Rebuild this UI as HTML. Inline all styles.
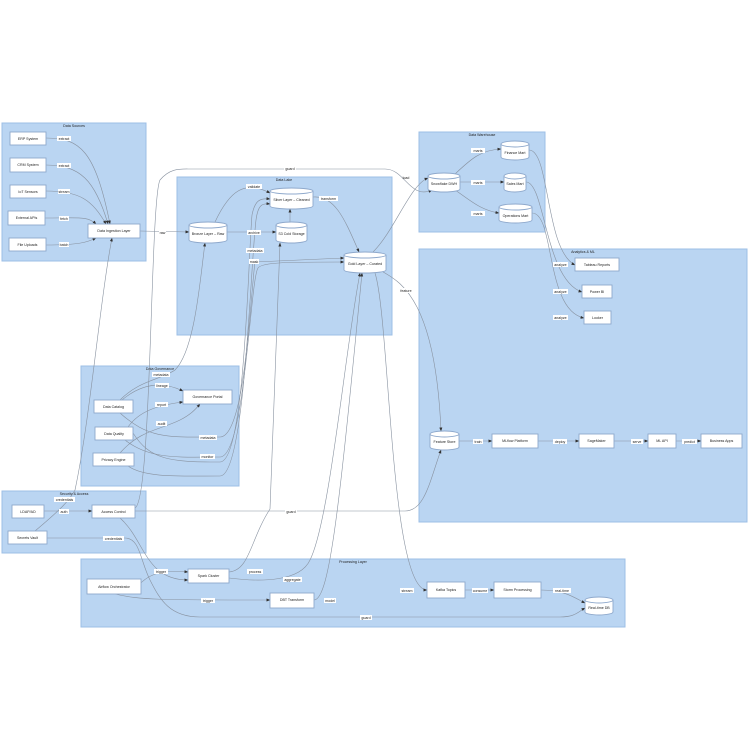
<!DOCTYPE html>
<html><head><meta charset="utf-8"><style>
html,body{margin:0;padding:0;background:#fff;}
svg{display:block;}
text{font-family:"Liberation Sans",sans-serif;font-size:3.6px;fill:#222;}
.c{fill:#bad5f2;stroke:#9cbfe6;stroke-width:1;}
.n{fill:#fff;stroke:#8fa9cc;stroke-width:0.9;}
.e{fill:none;stroke:#8892a0;stroke-width:0.6;}
.lb{fill:#fff;}
</style></head><body>
<svg width="750" height="750" viewBox="0 0 750 750" xmlns="http://www.w3.org/2000/svg">
<defs><marker id="a" markerWidth="4" markerHeight="4" refX="3.5" refY="2" orient="auto" markerUnits="userSpaceOnUse"><path d="M0,0.5 L4,2 L0,3.5 z" fill="#333"/></marker></defs>
<rect class="c" x="2" y="123" width="144" height="138"/><text x="74" y="127" text-anchor="middle">Data Sources</text>
<rect class="c" x="177" y="177" width="215" height="158"/><text x="284" y="181" text-anchor="middle">Data Lake</text>
<rect class="c" x="419" y="132" width="126" height="100"/><text x="482" y="136" text-anchor="middle">Data Warehouse</text>
<rect class="c" x="419" y="249" width="328" height="273"/><text x="583" y="253" text-anchor="middle">Analytics &amp; ML</text>
<rect class="c" x="81" y="366" width="158" height="120"/><text x="160" y="370" text-anchor="middle">Data Governance</text>
<rect class="c" x="2" y="491" width="144" height="62"/><text x="74" y="495" text-anchor="middle">Security &amp; Access</text>
<rect class="c" x="81" y="559" width="544" height="68"/><text x="353" y="563" text-anchor="middle">Processing Layer</text>

<g class="e" marker-end="url(#a)">
<path d="M46,138 C80,138 95,150 110,224"/>
<path d="M46,165 C80,165 95,180 108,224"/>
<path d="M46,191 C80,191 92,200 106,224"/>
<path d="M45,218 C80,218 88,216 96,224"/>
<path d="M46,245 C80,245 88,242 96,238"/>
<path d="M140,231 L189,232"/>
<path d="M215,222 C230,190 245,180 270,193"/>
<path d="M227,232 L276,232"/>
<path d="M290,222 L290,209"/>
<path d="M313,197 C335,195 345,220 359,252"/>
<path d="M373,252 C395,230 410,185 428,178"/>
<path d="M135,508 C152,500 150,200 160,180 C170,168 180,169 190,169 L385,169 C405,169 410,200 432,190"/>
<path d="M455,174 C470,160 480,150 501,149"/>
<path d="M460,182 L504,182"/>
<path d="M455,190 C470,200 480,210 499,213"/>
<path d="M529,150 C550,150 545,250 575,265"/>
<path d="M526,182 C545,182 545,280 582,292"/>
<path d="M532,213 C555,213 545,310 584,318"/>
<path d="M380,270 C395,280 435,290 441,431"/>
<path d="M375,273 C390,320 390,590 427,590"/>
<path d="M459,441 L492,441"/>
<path d="M538,441 L579,441"/>
<path d="M614,441 L648,441"/>
<path d="M676,441 L701,441"/>
<path d="M135,511 L405,511 C425,511 430,480 441,450"/>
<path d="M44,511 L92,511"/>
<path d="M35,531 C60,510 70,500 75,490 C90,420 100,300 112,238"/>
<path d="M47,538 L125,538 C140,538 140,560 150,580 C160,600 170,617 200,617 L560,617 C575,617 578,612 585,608"/>
<path d="M120,518 C145,540 145,580 188,580"/>
<path d="M138,586 C150,572 165,570 188,572"/>
<path d="M115,594 C140,600 160,600 270,600"/>
<path d="M229,572 C250,570 250,540 270,509 L280,243"/>
<path d="M229,578 C260,582 300,582 310,560 C330,520 345,350 360,273"/>
<path d="M314,600 C330,600 340,500 362,273"/>
<path d="M465,590 L494,590"/>
<path d="M541,590 C565,590 575,598 585,603"/>
<path d="M120,400 C140,380 160,380 175,370 C195,350 200,280 205,243"/>
<path d="M122,400 C140,385 160,380 183,391"/>
<path d="M128,427 C140,410 160,405 183,402"/>
<path d="M120,453 C140,430 160,430 180,420 C190,415 195,410 200,404"/>
<path d="M120,413 C150,440 170,437 220,437 C245,437 250,300 255,262 L344,258"/>
<path d="M125,440 C150,460 180,457 220,457 C245,457 250,280 258,268 C262,262 290,262 344,262"/>
<path d="M133,433 C150,460 170,462 220,462 C245,462 248,260 252,215 C255,200 260,198 270,199"/>
<path d="M128,466 C145,478 180,476 220,476 C245,476 250,270 256,220 C258,205 262,203 270,204"/>
</g>

<g>
<rect class="n" x="10" y="132" width="36" height="13"/><text x="28" y="140" text-anchor="middle">ERP System</text>
<rect class="n" x="10" y="158" width="36" height="14"/><text x="28" y="166" text-anchor="middle">CRM System</text>
<rect class="n" x="10" y="185" width="36" height="13"/><text x="28" y="193" text-anchor="middle">IoT Sensors</text>
<rect class="n" x="8" y="211" width="37" height="14"/><text x="26.5" y="219" text-anchor="middle">External APIs</text>
<rect class="n" x="9" y="238" width="37" height="13"/><text x="27.5" y="246" text-anchor="middle">File Uploads</text>
<rect class="n" x="88" y="224" width="52" height="14"/><text x="114" y="232" text-anchor="middle">Data Ingestion Layer</text>
<rect class="n" x="575" y="258" width="44" height="13"/><text x="597" y="266" text-anchor="middle">Tableau Reports</text>
<rect class="n" x="582" y="285" width="30" height="13"/><text x="597" y="293" text-anchor="middle">Power BI</text>
<rect class="n" x="584" y="311" width="27" height="13"/><text x="597.5" y="319" text-anchor="middle">Looker</text>
<rect class="n" x="492" y="434" width="46" height="14"/><text x="515" y="442" text-anchor="middle">MLflow Platform</text>
<rect class="n" x="579" y="434" width="35" height="14"/><text x="596.5" y="442" text-anchor="middle">SageMaker</text>
<rect class="n" x="648" y="434" width="28" height="14"/><text x="662" y="442" text-anchor="middle">ML API</text>
<rect class="n" x="701" y="434" width="41" height="14"/><text x="721.5" y="442" text-anchor="middle">Business Apps</text>
<rect class="n" x="94" y="400" width="39" height="13"/><text x="113.5" y="408" text-anchor="middle">Data Catalog</text>
<rect class="n" x="95" y="427" width="38" height="13"/><text x="114" y="435" text-anchor="middle">Data Quality</text>
<rect class="n" x="93" y="453" width="41" height="13"/><text x="113.5" y="461" text-anchor="middle">Privacy Engine</text>
<rect class="n" x="183" y="390" width="49" height="14"/><text x="207.5" y="398" text-anchor="middle">Governance Portal</text>
<rect class="n" x="12" y="505" width="32" height="13"/><text x="28" y="513" text-anchor="middle">LDAP/AD</text>
<rect class="n" x="92" y="505" width="43" height="13"/><text x="113.5" y="513" text-anchor="middle">Access Control</text>
<rect class="n" x="8" y="531" width="39" height="13"/><text x="27.5" y="539" text-anchor="middle">Secrets Vault</text>
<rect class="n" x="87" y="579" width="54" height="15"/><text x="114" y="588" text-anchor="middle">Airflow Orchestrator</text>
<rect class="n" x="188" y="569" width="41" height="14"/><text x="208.5" y="577" text-anchor="middle">Spark Cluster</text>
<rect class="n" x="270" y="593" width="44" height="15"/><text x="292" y="601" text-anchor="middle">DBT Transform</text>
<rect class="n" x="427" y="582" width="38" height="16"/><text x="446" y="591" text-anchor="middle">Kafka Topics</text>
<rect class="n" x="494" y="582" width="47" height="16"/><text x="517.5" y="591" text-anchor="middle">Storm Processing</text>
</g>

<g>
<path class="n" d="M189,225 L189,240 A19,3 0 0 0 227,240 L227,225"/><ellipse class="n" cx="208" cy="225" rx="19" ry="3"/><text x="208" y="235" text-anchor="middle">Bronze Layer – Raw</text>
<path class="n" d="M270,191 L270,206 A21.5,3 0 0 0 313,206 L313,191"/><ellipse class="n" cx="291.5" cy="191" rx="21.5" ry="3"/><text x="291.5" y="201" text-anchor="middle">Silver Layer – Cleaned</text>
<path class="n" d="M276,225 L276,240 A15.5,3 0 0 0 307,240 L307,225"/><ellipse class="n" cx="291.5" cy="225" rx="15.5" ry="3"/><text x="291.5" y="235" text-anchor="middle">S3 Cold Storage</text>
<path class="n" d="M344,255 L344,270 A21,3 0 0 0 386,270 L386,255"/><ellipse class="n" cx="365" cy="255" rx="21" ry="3"/><text x="365" y="265" text-anchor="middle">Gold Layer – Curated</text>
<path class="n" d="M428,176 L428,189 A16,3 0 0 0 460,189 L460,176"/><ellipse class="n" cx="444" cy="176" rx="16" ry="3"/><text x="444" y="185" text-anchor="middle">Snowflake DWH</text>
<path class="n" d="M501,144 L501,157 A14,3 0 0 0 529,157 L529,144"/><ellipse class="n" cx="515" cy="144" rx="14" ry="3"/><text x="515" y="154" text-anchor="middle">Finance Mart</text>
<path class="n" d="M504,176 L504,189 A11,3 0 0 0 526,189 L526,176"/><ellipse class="n" cx="515" cy="176" rx="11" ry="3"/><text x="515" y="185" text-anchor="middle">Sales Mart</text>
<path class="n" d="M499,207 L499,220 A16.5,3 0 0 0 532,220 L532,207"/><ellipse class="n" cx="515.5" cy="207" rx="16.5" ry="3"/><text x="515.5" y="217" text-anchor="middle">Operations Mart</text>
<path class="n" d="M430,434 L430,447 A14.5,3 0 0 0 459,447 L459,434"/><ellipse class="n" cx="444.5" cy="434" rx="14.5" ry="3"/><text x="444.5" y="443" text-anchor="middle">Feature Store</text>
<path class="n" d="M585,600 L585,612 A14,3 0 0 0 613,612 L613,600"/><ellipse class="n" cx="599" cy="600" rx="14" ry="3"/><text x="599" y="609" text-anchor="middle">Real-time DB</text>
</g>

<g>
<rect class="lb" x="57" y="136" width="14" height="5"/><text x="64" y="140" text-anchor="middle">extract</text>
<rect class="lb" x="57" y="163" width="14" height="5"/><text x="64" y="167" text-anchor="middle">extract</text>
<rect class="lb" x="58" y="189" width="12" height="5"/><text x="64" y="193" text-anchor="middle">stream</text>
<rect class="lb" x="59" y="216" width="10" height="5"/><text x="64" y="220" text-anchor="middle">fetch</text>
<rect class="lb" x="59" y="242" width="10" height="5"/><text x="64" y="246" text-anchor="middle">batch</text>
<rect class="lb" x="159" y="230" width="7" height="5"/><text x="162.5" y="234" text-anchor="middle">raw</text>
<rect class="lb" x="246" y="184" width="16" height="5"/><text x="254" y="188" text-anchor="middle">validate</text>
<rect class="lb" x="247" y="230" width="14" height="5"/><text x="254" y="234" text-anchor="middle">archive</text>
<rect class="lb" x="319" y="196" width="19" height="5"/><text x="328.5" y="200" text-anchor="middle">transform</text>
<rect class="lb" x="246" y="248" width="18" height="5"/><text x="255" y="252" text-anchor="middle">metadata</text>
<rect class="lb" x="249" y="259" width="10" height="5"/><text x="254" y="263" text-anchor="middle">mask</text>
<rect class="lb" x="284" y="166" width="12" height="5"/><text x="290" y="170" text-anchor="middle">guard</text>
<text x="406" y="179" text-anchor="middle">load</text>
<rect class="lb" x="471" y="148" width="14" height="5"/><text x="478" y="152" text-anchor="middle">marts</text>
<rect class="lb" x="471" y="180" width="14" height="5"/><text x="478" y="184" text-anchor="middle">marts</text>
<rect class="lb" x="471" y="211" width="14" height="5"/><text x="478" y="215" text-anchor="middle">marts</text>
<rect class="lb" x="553" y="262" width="15" height="5"/><text x="560.5" y="266" text-anchor="middle">analyze</text>
<rect class="lb" x="553" y="289" width="15" height="5"/><text x="560.5" y="293" text-anchor="middle">analyze</text>
<rect class="lb" x="553" y="315" width="15" height="5"/><text x="560.5" y="319" text-anchor="middle">analyze</text>
<rect class="lb" x="399" y="288" width="14" height="5"/><text x="406" y="292" text-anchor="middle">feature</text>
<rect class="lb" x="473" y="439" width="10" height="5"/><text x="478" y="443" text-anchor="middle">train</text>
<rect class="lb" x="553" y="439" width="14" height="5"/><text x="560" y="443" text-anchor="middle">deploy</text>
<rect class="lb" x="631" y="439" width="12" height="5"/><text x="637" y="443" text-anchor="middle">serve</text>
<rect class="lb" x="682" y="439" width="15" height="5"/><text x="689.5" y="443" text-anchor="middle">predict</text>
<rect class="lb" x="285" y="509" width="12" height="5"/><text x="291" y="513" text-anchor="middle">guard</text>
<rect class="lb" x="59" y="509" width="10" height="5"/><text x="64" y="513" text-anchor="middle">auth</text>
<rect class="lb" x="54" y="497" width="21" height="5"/><text x="64.5" y="501" text-anchor="middle">credentials</text>
<rect class="lb" x="103" y="536" width="21" height="5"/><text x="113.5" y="540" text-anchor="middle">credentials</text>
<rect class="lb" x="152" y="372" width="18" height="5"/><text x="161" y="376" text-anchor="middle">metadata</text>
<rect class="lb" x="155" y="383" width="14" height="5"/><text x="162" y="387" text-anchor="middle">lineage</text>
<rect class="lb" x="155" y="402" width="13" height="5"/><text x="161.5" y="406" text-anchor="middle">report</text>
<rect class="lb" x="156" y="421" width="11" height="5"/><text x="161.5" y="425" text-anchor="middle">audit</text>
<rect class="lb" x="199" y="435" width="18" height="5"/><text x="208" y="439" text-anchor="middle">metadata</text>
<rect class="lb" x="200" y="454" width="15" height="5"/><text x="207.5" y="458" text-anchor="middle">monitor</text>
<rect class="lb" x="154" y="569" width="14" height="5"/><text x="161" y="573" text-anchor="middle">trigger</text>
<rect class="lb" x="201" y="598" width="14" height="5"/><text x="208" y="602" text-anchor="middle">trigger</text>
<rect class="lb" x="247" y="569" width="16" height="5"/><text x="255" y="573" text-anchor="middle">process</text>
<rect class="lb" x="283" y="577" width="19" height="5"/><text x="292.5" y="581" text-anchor="middle">aggregate</text>
<rect class="lb" x="324" y="598" width="12" height="5"/><text x="330" y="602" text-anchor="middle">model</text>
<rect class="lb" x="400" y="588" width="14" height="5"/><text x="407" y="592" text-anchor="middle">stream</text>
<rect class="lb" x="472" y="588" width="16" height="5"/><text x="480" y="592" text-anchor="middle">consume</text>
<rect class="lb" x="553" y="588" width="18" height="5"/><text x="562" y="592" text-anchor="middle">real-time</text>
<rect class="lb" x="360" y="615" width="12" height="5"/><text x="366" y="619" text-anchor="middle">guard</text>
</g>
</svg>
</body></html>
